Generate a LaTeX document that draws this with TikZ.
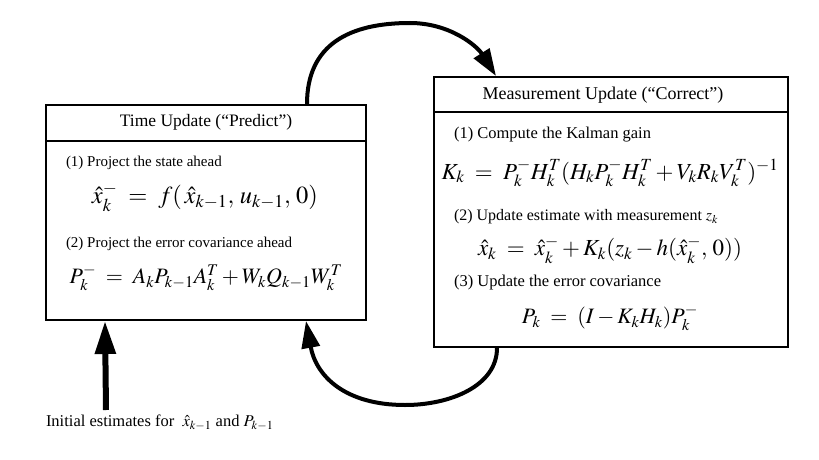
\documentclass[tikz,border=0pt]{standalone}
\usepackage{mathptmx}
\usepackage{fontspec}
\setmainfont{Liberation Serif}
\usetikzlibrary{arrows.meta,calc}

\begin{document}
\begin{tikzpicture}[x=1pt, y=-1pt, line width=2pt,
    updbox/.style={draw, rectangle, inner sep=0pt},
    boxtitle/.style={font=\fontsize{17.5}{20}\selectfont, inner sep=0pt},
    steptext/.style={anchor=west, font=\fontsize{15}{18}\selectfont, inner sep=0pt},
    eqn/.style={font=\fontsize{23}{27}\selectfont, inner sep=0pt},
    cyclearrow/.style={line width=4pt, -{Triangle[length=27pt,width=18pt]}},
    initarrow/.style={line width=6pt, -{Triangle[length=33pt,width=20pt]}}]
    \useasboundingbox (0,0) rectangle (819,460);

    % 1. the two update boxes
    \node[updbox, minimum width=320pt, minimum height=215pt] (tu) at (206,212.5) {};
    \node[updbox, minimum width=354pt, minimum height=270pt] (mu) at (611,212) {};
    \draw ($(tu.north west)+(0,37)$) -- ($(tu.north east)+(0,37)$);
    \draw ($(mu.north west)+(0,36)$) -- ($(mu.north east)+(0,36)$);

    % 2. time update
    \node[boxtitle] (tutitle) at ($(tu.north)+(0,18.5)$) {Time Update (``Predict'')};
    \node[steptext] (tustepa) at (65,163) {(1) Project the state ahead};
    \node[eqn, font=\fontsize{24.5}{29}\selectfont] (tueqa) at (205,197) {$\hat{x}_k^- \;=\; f(\,\hat{x}_{k-1},\, u_{k-1},\, 0)$};
    \node[steptext] (tustepb) at (65,244) {(2) Project the error covariance ahead};
    \node[eqn, font=\fontsize{22}{26}\selectfont] (tueqb) at (206,278) {$P_k^- \;=\; A_k P_{k-1} A_k^T + W_k Q_{k-1} W_k^T$};

    % 3. measurement update
    \node[boxtitle, font=\fontsize{18}{21}\selectfont] (mutitle) at (603,95) {Measurement Update (``Correct'')};
    \node[steptext, font=\fontsize{16.5}{19}\selectfont] (mustepa) at (453,135) {(1) Compute the Kalman gain};
    \node[eqn] (mueqa) at (610,173) {$K_k \;=\; P_k^- H_k^T (H_k P_k^- H_k^T + V_k R_k V_k^T)^{-1}$};
    \node[steptext, font=\fontsize{16}{19}\selectfont] (mustepb) at (453,217) {(2) Update estimate with measurement $z_k$};
    \node[eqn] (mueqb) at (610,250) {$\hat{x}_k \;=\; \hat{x}_k^- + K_k(z_k - h(\hat{x}_k^-,\, 0))$};
    \node[steptext, font=\fontsize{16.5}{19}\selectfont] (mustepc) at (453,283) {(3) Update the error covariance};
    \node[eqn, font=\fontsize{22}{26}\selectfont] (mueqc) at (610,318) {$P_k \;=\; (I - K_k H_k) P_k^-$};

    % 4. initial estimates
    \node[steptext, font=\fontsize{16.5}{19}\selectfont] (init) at (45,423) {Initial estimates for \ $\hat{x}_{k-1}$ and $P_{k-1}$};
    \coordinate (initfoot) at (106,410);
    \draw[initarrow] (initfoot) -- ([xshift=60pt]tu.south west);

    % 5. predict-correct cycle
    \coordinate (topturn) at (410,23);
    \coordinate (botturn) at (405,405);
    \draw[cyclearrow] ([xshift=-60pt]tu.north east) .. controls +(0,-60) and +(-60,0) .. (topturn)
        .. controls +(40,0) and +(-19,-30) .. ([xshift=63pt]mu.north west);
    \draw[cyclearrow] ([xshift=64pt]mu.south west) .. controls +(0,38) and +(45,0) .. (botturn)
        .. controls +(-60,0) and +(10,55) .. ([xshift=-61pt]tu.south east);
\end{tikzpicture}
\end{document}
